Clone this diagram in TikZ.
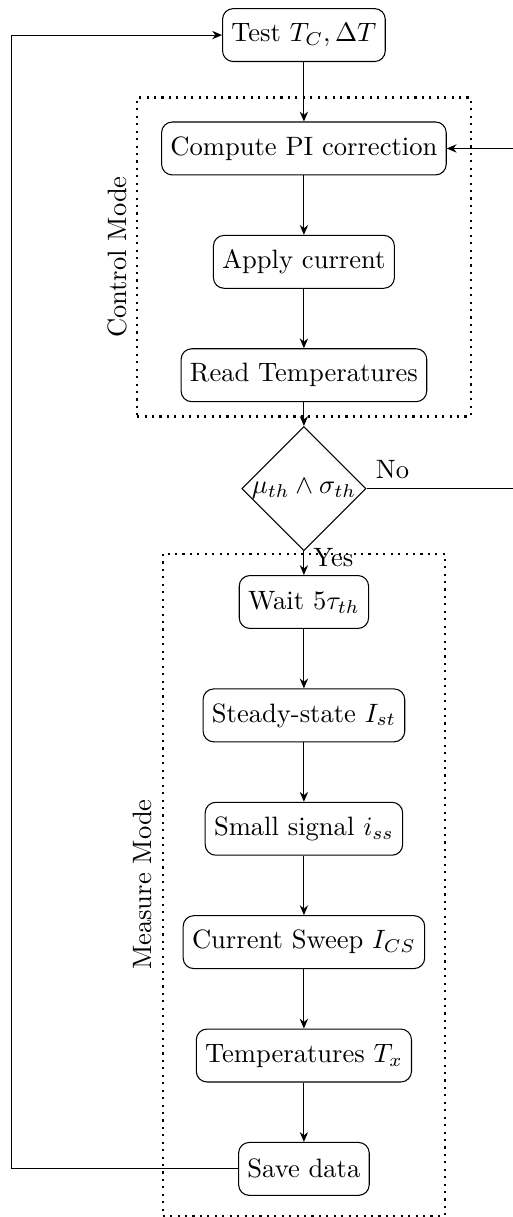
\documentclass[tikz,border=0pt]{standalone}
\usepackage{amsmath}
\usepackage{amssymb}
\usetikzlibrary{shapes.geometric, arrows.meta, positioning, fit, calc}

\begin{document}
\begin{tikzpicture}[
  node distance=15mm, on grid,
  box/.style={draw, rounded corners, align=center, minimum height=7mm},
  check/.style={draw, diamond, aspect=1, inner sep=0pt},
  mode/.style={draw, dotted, thick},
  arr/.style={-{Stealth[length=1.3mm, width=1.1mm]}}]
\useasboundingbox (-114.4pt,13.2pt) rectangle (78.7pt,-444.9pt);
% control loop
\node[box] (test) {Test $T_C, \Delta T$};
\node[box, below=of test] (comp) {Compute PI correction};
\node[box, below=of comp] (apply) {Apply current};
\node[box, below=of apply] (read) {Read Temperatures};
\node[check, below=of read] (chk) {$\mu_{th} \wedge \sigma_{th}$};
% measurement
\node[box, below=of chk] (wait) {Wait $5\tau_{th}$};
\node[box, below=of wait] (steady) {Steady-state $I_{st}$};
\node[box, below=of steady] (small) {Small signal $i_{ss}$};
\node[box, below=of small] (sweep) {Current Sweep $I_{CS}$};
\node[box, below=of sweep] (temps) {Temperatures $T_x$};
\node[box, below=of temps] (save) {Save data};
\node[mode, fit=(comp)(read), inner xsep=9pt, inner ysep=7.2pt, yshift=1.8pt] (ctrl) {};
\node[mode, fit=(wait)(sweep)(save), inner xsep=7.5pt, inner ysep=7.75pt, yshift=0.3pt] (meas) {};
\node[rotate=90, anchor=south] (ctrllbl) at (ctrl.west) {Control Mode};
\node[rotate=90, anchor=south] (measlbl) at (meas.west) {Measure Mode};
\coordinate (lback) at (-109.9pt,0);
\coordinate (rback) at (79.4pt,0);
\draw[arr] (test) -- (comp);
\draw[arr] (comp) -- (apply);
\draw[arr] (apply) -- (read);
\draw[arr] (read) -- (chk);
\draw[arr] (chk) -- node[right, near start]{Yes} (wait);
\draw[arr] (wait) -- (steady);
\draw[arr] (steady) -- (small);
\draw[arr] (small) -- (sweep);
\draw[arr] (sweep) -- (temps);
\draw[arr] (temps) -- (save);
\draw[arr] (chk.east) node[above right]{No} -- (chk.east -| rback) |- (comp.east);
\draw[arr] (save.west) -- (save.west -| lback) |- (test.west);
\end{tikzpicture}
\end{document}
